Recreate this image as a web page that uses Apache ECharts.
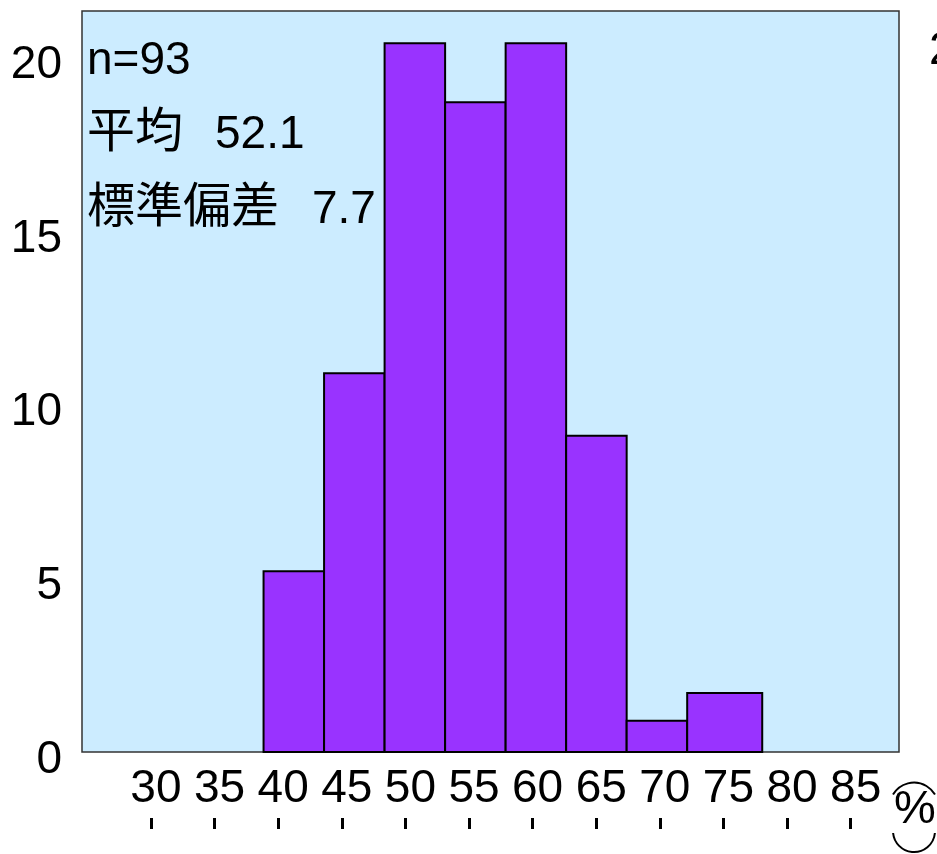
<!DOCTYPE html>
<html>
<head>
<meta charset="utf-8">
<script src="https://cdn.jsdelivr.net/npm/echarts@6/dist/echarts.min.js"></script>
<style>html,body{margin:0;padding:0;background:#fff;}#c{width:937px;height:854px;}</style>
</head>
<body>
<div id="c"></div>
<script>
// ---- data ----
const binStart = [40, 45, 50, 55, 60, 65, 70, 75];
const binEnd   = [45, 50, 55, 60, 65, 70, 75, 81.2];
const counts   = [5.2, 10.9, 20.4, 18.7, 20.4, 9.1, 0.9, 1.7];
const xTickLabels = [30, 35, 40, 45, 50, 55, 60, 65, 70, 75, 80, 85];
const yTickLabels = [0, 5, 10, 15, 20];
const statN = 'n=93';
const statMeanLabel = '平均';
const statMean = '52.1';
const statSdLabel = '標準偏差';
const statSd = '7.7';
const unitLabel = '%';

const FONT = '"Liberation Sans", Arial, "Noto Sans CJK JP", sans-serif';
const chart = echarts.init(document.getElementById('c'), null, {renderer: 'canvas'});

const binData = binStart.map((s, i) => [s, binEnd[i], counts[i]]);

chart.setOption({
  animation: false,
  backgroundColor: '#ffffff',
  grid: {
    left: 82, top: 11, right: 38, bottom: 102,
    show: true, backgroundColor: '#CCECFF', borderColor: '#333', borderWidth: 1.5
  },
  xAxis: [
    { // bar scale
      type: 'value', min: 25, max: 92.5, show: false
    },
    { // tick label scale
      type: 'value', min: 24.58, max: 88.8, position: 'bottom', offset: 66,
      splitLine: {show: false},
      axisLine: {show: false},
      axisTick: {show: true, customValues: xTickLabels, length: 11, inside: false,
                 lineStyle: {color: '#000', width: 3}},
      axisLabel: {show: true, customValues: xTickLabels, inside: true, margin: 6,
                  fontSize: 46, color: '#000', fontFamily: FONT, padding: [0, 0, 0, 10]}
    }
  ],
  yAxis: {
    type: 'value', min: 0, max: 21.33, interval: 5,
    splitLine: {show: false}, axisLine: {show: false}, axisTick: {show: false},
    axisLabel: {
      margin: 20, showMaxLabel: false,
      formatter: v => (yTickLabels.indexOf(v) >= 0 ? '{a|' + v + '}' : ''),
      rich: {a: {fontSize: 46, color: '#000', fontFamily: FONT, padding: [16, 0, 0, 0]}}
    }
  },
  series: [{
    type: 'custom',
    xAxisIndex: 0, yAxisIndex: 0,
    data: binData,
    encode: {x: [0, 1], y: 2},
    renderItem: function (params, api) {
      const p0 = api.coord([api.value(0), 0]);
      const p1 = api.coord([api.value(1), api.value(2)]);
      return {
        type: 'rect',
        shape: {x: p0[0], y: p1[1], width: p1[0] - p0[0], height: p0[1] - p1[1]},
        style: {fill: '#9933FF', stroke: '#000', lineWidth: 2}
      };
    }
  }],
  graphic: [
    {type: 'text', left: 87, top: 38, style: {text: statN, font: '46px ' + FONT, fill: '#000'}},
    {type: 'text', left: 87, top: 110, style: {text: statMeanLabel, font: '48px ' + FONT, fill: '#000'}},
    {type: 'text', left: 215, top: 112, style: {text: statMean, font: '46px ' + FONT, fill: '#000'}},
    {type: 'text', left: 87, top: 185, style: {text: statSdLabel, font: '48px ' + FONT, fill: '#000'}},
    {type: 'text', left: 312, top: 187, style: {text: statSd, font: '46px ' + FONT, fill: '#000'}},
    {type: 'text', x: 915, y: 810, style: {text: unitLabel, font: '47px ' + FONT, fill: '#000', align: 'center', verticalAlign: 'middle'}},
    {type: 'arc', shape: {cx: 914, cy: 807, r: 24.4, startAngle: Math.PI * 1.17, endAngle: Math.PI * 1.83}, style: {stroke: '#000', lineWidth: 2, fill: null}},
    {type: 'arc', shape: {cx: 914, cy: 831, r: 21, startAngle: Math.PI * 0.03, endAngle: Math.PI * 0.97}, style: {stroke: '#000', lineWidth: 2, fill: null}},
    {type: 'text', x: 929, y: 28, style: {text: '20', font: '46px ' + FONT, fill: '#000'}}
  ]
});
</script>
</body>
</html>
